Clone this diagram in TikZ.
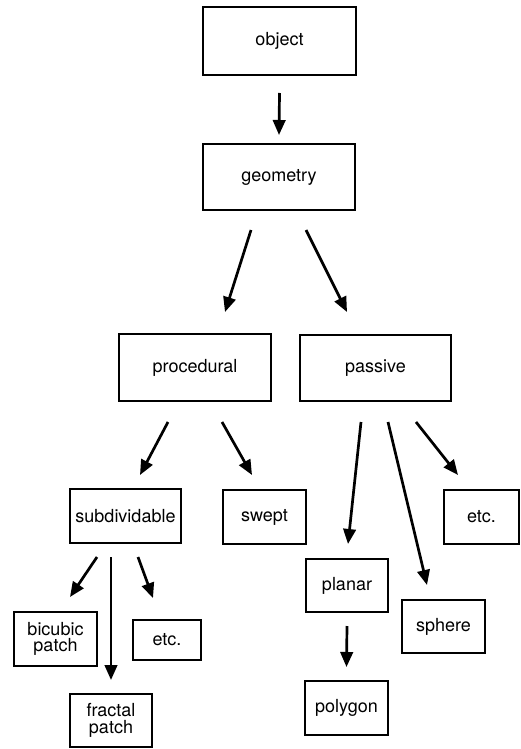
\documentclass[tikz,border=0pt]{standalone}
\usepackage{fontspec}
\setmainfont{TeX Gyre Heros}
\usetikzlibrary{arrows.meta,calc}
\tikzset{
  box/.style={draw=black, line width=2.1pt, rectangle, inner sep=0pt, align=center,
    font=\fontsize{18}{16.5}\selectfont},
  conn/.style={line width=2.7pt, -{Triangle[length=15pt,width=12.5pt]}},
}
\begin{document}
\begin{tikzpicture}[x=1pt,y=-1pt]
\useasboundingbox (0,0) rectangle (521,749);
\node[box, minimum width=153pt, minimum height=68pt] (object) at (279.5,41) {object};
\node[box, minimum width=152pt, minimum height=66pt] (geometry) at (279,177) {geometry};
\node[box, minimum width=152pt, minimum height=67pt] (procedural) at (195,367.5) {procedural};
\node[box, minimum width=151pt, minimum height=66pt] (passive) at (375.5,368) {passive};
\node[box, minimum width=111pt, minimum height=54pt] (subdividable) at (125.5,516) {subdividable};
\node[box, minimum width=83pt, minimum height=54pt] (swept) at (264.5,517) {swept};
\node[box, minimum width=75pt, minimum height=54pt] (etcR) at (481.5,517) {etc.};
\node[box, minimum width=82pt, minimum height=53pt] (planar) at (347,585.5) {planar};
\node[box, minimum width=83pt, minimum height=53pt] (sphere) at (443.5,626.5) {sphere};
\node[box, minimum width=83pt, minimum height=54pt] (bicubic) at (55.5,639) {bicubic\\patch};
\node[box, minimum width=68pt, minimum height=40pt] (etcL) at (167,640) {etc.};
\node[box, minimum width=82pt, minimum height=53pt] (fractal) at (111,720.5) {fractal\\patch};
\node[box, minimum width=83pt, minimum height=54pt] (polygon) at (346.5,708) {polygon};

\draw[conn] ($(object)+(0,52)$) -- ($(geometry)+(0,-42)$);
\draw[conn] ($(geometry)+(-28,53)$) -- ($(procedural)+(30,-55.5)$);
\draw[conn] ($(geometry)+(27,53)$) -- ($(passive)+(-28.5,-56)$);
\draw[conn] ($(procedural)+(-27,54.5)$) -- ($(subdividable)+(14.5,-41)$);
\draw[conn] ($(procedural)+(27,54.5)$) -- ($(swept)+(-12.5,-42)$);
\draw[conn] ($(passive)+(-14.5,54)$) -- ($(planar)+(1,-41.5)$);
\draw[conn] ($(passive)+(12.5,54)$) -- ($(sphere)+(-16.5,-41.5)$);
\draw[conn] ($(passive)+(40.5,54)$) -- ($(etcR)+(-23.5,-42)$);
\draw[conn] ($(subdividable)+(-28.5,41)$) -- ($(bicubic)+(14.5,-42)$);
\draw[conn] ($(subdividable)+(-14.5,41)$) -- ($(fractal)+(0,-40.5)$);
\draw[conn] ($(subdividable)+(12.5,41)$) -- ($(etcL)+(-14,-42)$);
\draw[conn] ($(planar)+(0,40.5)$) -- ($(polygon)+(0,-41)$);
\end{tikzpicture}
\end{document}
